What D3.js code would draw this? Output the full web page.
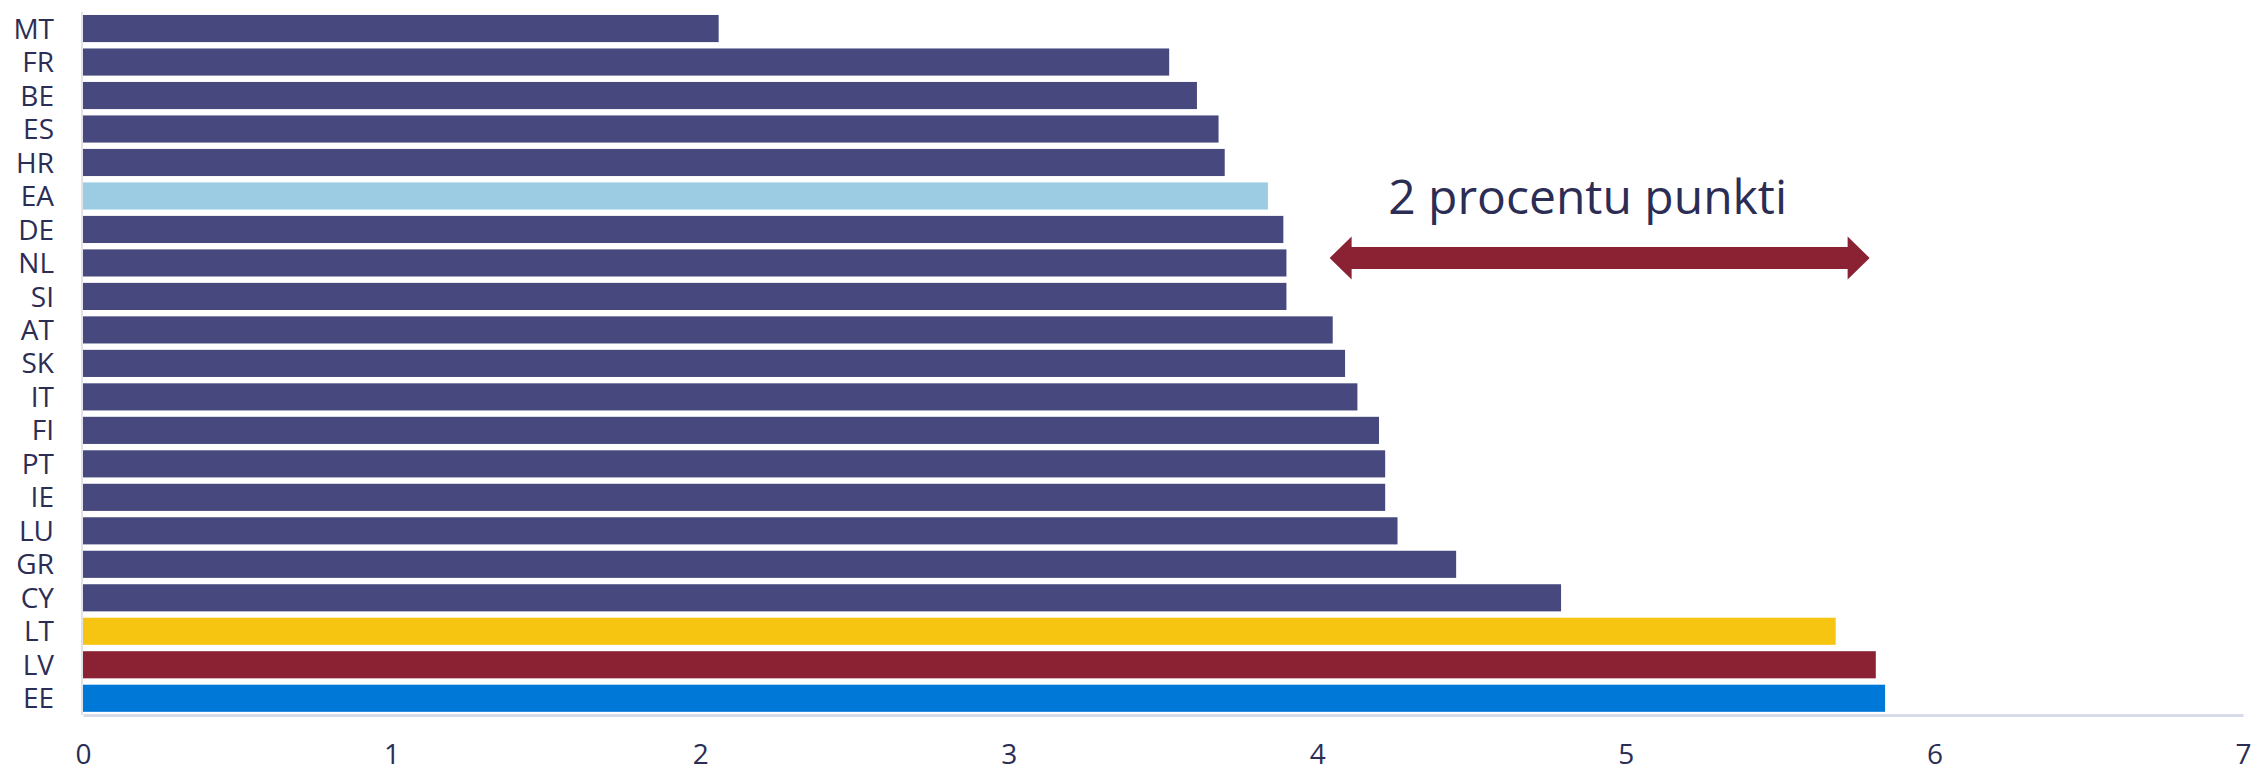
<!DOCTYPE html>
<html>
<head>
<meta charset="utf-8">
<script src="https://cdn.jsdelivr.net/npm/d3@7"></script>
<style>
  body { margin: 0; background: #fff; }
  svg text { font-family: "Open Sans", sans-serif; fill: #2b2d55; }
</style>
</head>
<body>
<svg id="chart" width="2256" height="768"></svg>
<script>
// countries, top to bottom
var countries = ["MT","FR","BE","ES","HR","EA","DE","NL","SI","AT","SK","IT","FI","PT","IE","LU","GR","CY","LT","LV","EE"];
var values = [2.06,3.52,3.61,3.68,3.70,3.84,3.89,3.90,3.90,4.05,4.09,4.13,4.20,4.22,4.22,4.26,4.45,4.79,5.68,5.81,5.84];
var xTicks = [0,1,2,3,4,5,6,7];
var highlight = { EA: "#9bcce4", LT: "#f6c511", LV: "#8a2233", EE: "#0078d7" };
var baseColor = "#46487e";

// annotation
var arrowFrom = 4.04, arrowTo = 5.79;
var arrowLabel = "2 procentu punkti";

var svg = d3.select("#chart");
var x0 = 83, x1 = 2243, yTop = 11.8, yBottom = 715;

var xScale = d3.scaleLinear().domain([0, 7]).range([x0, x1]);
var yScale = d3.scaleBand()
  .domain(countries)
  .range([yTop, yBottom])
  .paddingInner(0.19)
  .paddingOuter(0.095);

// left vertical line
svg.append("line")
  .attr("x1", x0 - 1).attr("x2", x0 - 1)
  .attr("y1", yTop).attr("y2", yBottom)
  .attr("stroke", "#e2e2e8").attr("stroke-width", 2);

// bars
svg.append("g")
  .selectAll("rect")
  .data(countries)
  .enter()
  .append("rect")
    .attr("x", xScale(0))
    .attr("y", d => yScale(d))
    .attr("width", (d, i) => xScale(values[i]) - xScale(0))
    .attr("height", yScale.bandwidth())
    .attr("fill", d => highlight[d] || baseColor);

// y labels
svg.append("g")
  .selectAll("text")
  .data(countries)
  .enter()
  .append("text")
    .attr("x", 54)
    .attr("y", d => yScale(d) + yScale.bandwidth() / 2)
    .attr("dy", "0.36em")
    .attr("text-anchor", "end")
    .style("font-size", "28px")
    .text(d => d);

// x axis
var xAxis = svg.append("g")
  .attr("transform", `translate(0, ${yBottom})`)
  .call(d3.axisBottom(xScale).tickValues(xTicks).tickSize(0).tickPadding(29).tickFormat(d3.format("d")));
xAxis.select(".domain").attr("stroke", "#d9dae8").attr("stroke-width", 3);
xAxis.selectAll("text")
  .style("font-size", "28px")
  .style("font-family", "'Open Sans', sans-serif")
  .attr("fill", "#2b2d55");

// double arrow
var ay = 258, shaft = 11, head = 21.5, headLen = 22;
var ax1 = xScale(arrowFrom), ax2 = xScale(arrowTo);
svg.append("path")
  .attr("d", [
    "M", ax1, ay,
    "L", ax1 + headLen, ay - head,
    "L", ax1 + headLen, ay - shaft,
    "L", ax2 - headLen, ay - shaft,
    "L", ax2 - headLen, ay - head,
    "L", ax2, ay,
    "L", ax2 - headLen, ay + head,
    "L", ax2 - headLen, ay + shaft,
    "L", ax1 + headLen, ay + shaft,
    "L", ax1 + headLen, ay + head,
    "Z"].join(" "))
  .attr("fill", "#8a2233");

svg.append("text")
  .attr("x", (ax1 + ax2) / 2 - 12)
  .attr("y", 214)
  .attr("text-anchor", "middle")
  .style("font-size", "48px")
  .text(arrowLabel);
</script>
</body>
</html>
